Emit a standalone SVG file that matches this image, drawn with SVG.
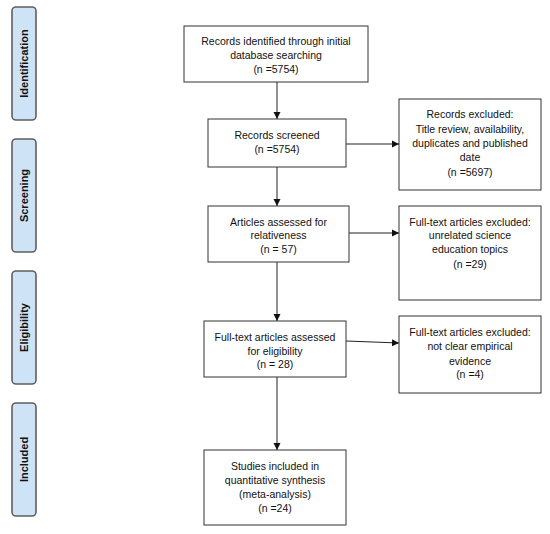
<svg xmlns="http://www.w3.org/2000/svg" width="550" height="534" viewBox="0 0 550 534">
<style>
.stage{fill:#cfe3f6;stroke:#5f5f5f;stroke-width:1.6}
.stage-t{font-family:"Liberation Sans",Arial,sans-serif;font-size:11px;font-weight:bold;fill:#111;text-anchor:middle}
.box{fill:#fff;stroke:#333;stroke-width:1}
.t{font-family:"Liberation Sans",Arial,sans-serif;font-size:10.5px;fill:#111;text-anchor:middle}
.c{stroke:#222;stroke-width:1;fill:none;marker-end:url(#ah)}
</style>
<defs>
<marker id="ah" markerWidth="8" markerHeight="8" refX="7" refY="4" orient="auto" markerUnits="userSpaceOnUse">
<path d="M0,0.5 L7,4 L0,7.5 Z" fill="#111"/>
</marker>
</defs>
<rect width="550" height="534" fill="#fff"/>
<g id="stage-identification"><rect class="stage" x="12" y="7" width="24" height="113" rx="4"/><text class="stage-t" transform="translate(28,63.5) rotate(-90)">Identification</text></g>
<g id="stage-screening"><rect class="stage" x="12" y="139" width="24" height="113" rx="4"/><text class="stage-t" transform="translate(28,195.5) rotate(-90)">Screening</text></g>
<g id="stage-eligibility"><rect class="stage" x="12" y="271" width="24" height="113" rx="4"/><text class="stage-t" transform="translate(28,327.5) rotate(-90)">Eligibility</text></g>
<g id="stage-included"><rect class="stage" x="12" y="403" width="24" height="113" rx="4"/><text class="stage-t" transform="translate(28,459.5) rotate(-90)">Included</text></g>

<g id="connectors">
<line class="c" x1="277" y1="82" x2="277" y2="119"/>
<line class="c" x1="277" y1="167" x2="277" y2="206"/>
<line class="c" x1="277" y1="262" x2="277" y2="321"/>
<line class="c" x1="277" y1="377" x2="277" y2="450"/>
<line class="c" x1="346" y1="144" x2="399" y2="144"/>
<line class="c" x1="349" y1="233" x2="399" y2="233"/>
<line class="c" x1="346" y1="341" x2="399" y2="343"/>
</g>

<g id="n1"><rect class="box" x="184" y="26" width="184" height="56"/>
<text class="t" x="276" y="45">Records identified through initial</text>
<text class="t" x="276" y="59">database searching</text>
<text class="t" x="276" y="73">(n =5754)</text></g>

<g id="n2"><rect class="box" x="208" y="119" width="138" height="48"/>
<text class="t" x="277" y="139">Records screened</text>
<text class="t" x="277" y="153">(n =5754)</text></g>

<g id="n3"><rect class="box" x="208" y="206" width="141" height="56"/>
<text class="t" x="278.5" y="226">Articles assessed for</text>
<text class="t" x="278.5" y="239">relativeness</text>
<text class="t" x="278.5" y="253">(n = 57)</text></g>

<g id="n4"><rect class="box" x="204" y="321" width="142" height="56"/>
<text class="t" x="275" y="341">Full-text articles assessed</text>
<text class="t" x="275" y="355">for eligibility</text>
<text class="t" x="275" y="368">(n = 28)</text></g>

<g id="n5"><rect class="box" x="204" y="450" width="142" height="75"/>
<text class="t" x="275" y="470">Studies included in</text>
<text class="t" x="275" y="484">quantitative synthesis</text>
<text class="t" x="275" y="498">(meta-analysis)</text>
<text class="t" x="275" y="512">(n =24)</text></g>

<g id="x1"><rect class="box" x="399" y="99" width="142" height="91"/>
<text class="t" x="470" y="118">Records excluded:</text>
<text class="t" x="470" y="133">Title review, availability,</text>
<text class="t" x="470" y="147">duplicates and published</text>
<text class="t" x="470" y="161">date</text>
<text class="t" x="470" y="176">(n =5697)</text></g>

<g id="x2"><rect class="box" x="399" y="206" width="142" height="94"/>
<text class="t" x="470" y="226">Full-text articles excluded:</text>
<text class="t" x="470" y="239">unrelated science</text>
<text class="t" x="470" y="253">education topics</text>
<text class="t" x="470" y="268">(n =29)</text></g>

<g id="x3"><rect class="box" x="399" y="316" width="142" height="77"/>
<text class="t" x="470" y="336">Full-text articles excluded:</text>
<text class="t" x="470" y="350">not clear empirical</text>
<text class="t" x="470" y="365">evidence</text>
<text class="t" x="470" y="378">(n =4)</text></g>
</svg>
